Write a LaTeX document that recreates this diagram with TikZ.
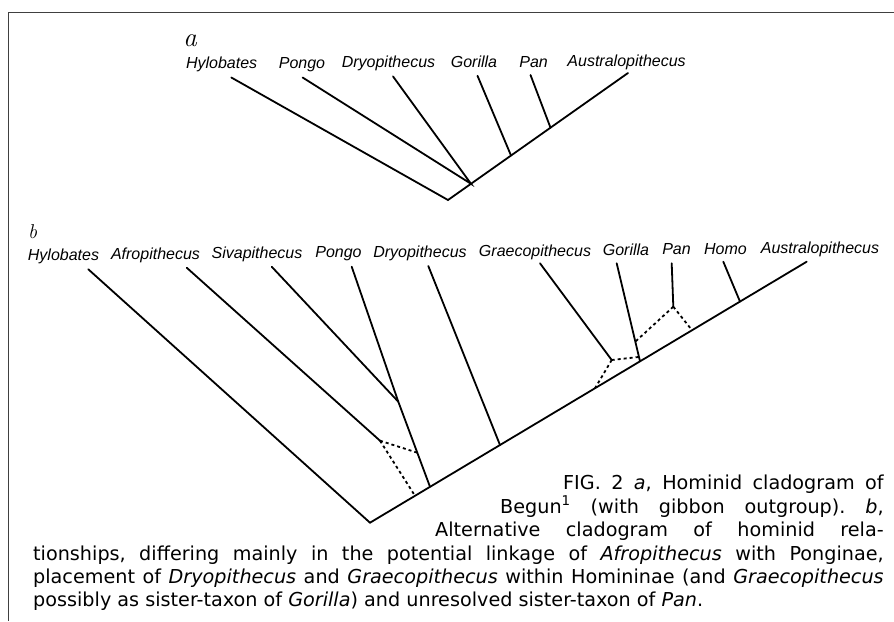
\documentclass[tikz,border=0pt]{standalone}
\usepackage{fontspec}
\newfontfamily\capfont{DejaVu Sans}
\newfontfamily\labfont{Liberation Sans}
\begin{document}
\begin{tikzpicture}[x=1pt,y=-1pt,
  br/.style={line width=1.8pt, line cap=round},
  dsh/.style={line width=1.8pt, dash pattern=on 3pt off 3pt},
  tx/.style={font=\labfont\itshape\fontsize{16}{19}\selectfont, inner sep=0pt, anchor=base},
  captext/.style={font=\capfont\fontsize{19.2}{23}\selectfont, inner sep=0pt, anchor=base west},
  panel/.style={font=\itshape\fontsize{27}{30}\selectfont, inner sep=0pt, anchor=base}]
\useasboundingbox (0,0) rectangle (894,621);
\draw[black!75, line width=1pt] (894,12) -- (8,12) -- (8,621);

% ---------- panel a ----------
\node[panel] (pa) at (190,46.5) {a};
\node[tx] (aHy) at (221.6,68.5) {Hylobates};
\node[tx] (aPo) at (302,68) {Pongo};
\node[tx] (aDr) at (388.5,67.5) {Dryopithecus};
\node[tx] (aGo) at (474,67) {Gorilla};
\node[tx] (aPa) at (533.6,67) {Pan};
\node[tx] (aAu) at (626.6,66.5) {Australopithecus};

\coordinate (aR) at (448,200);
\coordinate (aJ) at (471,183.8);
\coordinate (aGb) at (511,155.5);
\coordinate (aPb) at (550.5,127.7);
\coordinate (aAt) at (628,73);
\coordinate (aHt) at (231.3,77.5);
\coordinate (aPt) at (302.6,77.5);
\coordinate (aDt) at (393,76.4);
\coordinate (aGt) at (477.5,75.8);
\coordinate (aPat) at (530.5,75);

\draw[br] (aHt) -- (aR) -- (aAt);
\draw[br] (aPt) -- (aJ) -- (aDt);
\draw[br] (aGt) -- (aGb);
\draw[br] (aPat) -- (aPb);

% ---------- panel b ----------
\node[panel,font=\itshape\fontsize{20}{24}\selectfont] (pb) at (32.5,238) {b};
\node[tx] (bHy) at (63.5,260) {Hylobates};
\node[tx] (bAf) at (155.5,259) {Afropithecus};
\node[tx] (bSi) at (257,258) {Sivapithecus};
\node[tx] (bPo) at (338.5,257.5) {Pongo};
\node[tx] (bDr) at (420,257) {Dryopithecus};
\node[tx] (bGr) at (535,256) {Graecopithecus};
\node[tx] (bGo) at (626,255) {Gorilla};
\node[tx] (bPa) at (676.5,254.5) {Pan};
\node[tx] (bHo) at (725.5,254) {Homo};
\node[tx] (bAu) at (820,253.5) {Australopithecus};

\coordinate (bR) at (370,522.7);
\coordinate (bAt) at (806.7,261.7);
\coordinate (bHt) at (88.3,269.3);
\coordinate (bAft) at (186.7,267.7);
\coordinate (bA) at (380,440.7);
\coordinate (bSit) at (271.7,266.7);
\coordinate (bP) at (398.3,401.7);
\coordinate (bPot) at (351.7,266.7);
\coordinate (bPob) at (430,486.8);
\coordinate (bAx) at (418.2,453);
\coordinate (bAm) at (415,495.8);
\coordinate (bDt) at (428.3,266);
\coordinate (bDb) at (500,445);
\coordinate (bGrt) at (540,263.3);
\coordinate (bG) at (611.7,360);
\coordinate (bGot) at (616.7,263.3);
\coordinate (bGob) at (640,361.3);
\coordinate (bGx) at (638.5,357);
\coordinate (bGm) at (595,388.3);
\coordinate (bPat) at (671.7,263.3);
\coordinate (bQ) at (673.3,306.7);
\coordinate (bQx) at (635.3,341.7);
\coordinate (bQm) at (692,330.2);
\coordinate (bHot) at (723.3,261.7);
\coordinate (bHob) at (740,301.6);

\draw[br] (bHt) -- (bR) -- (bAt);
\draw[br] (bAft) -- (bA);
\draw[br] (bSit) -- (bP);
\draw[br] (bPot) -- (bP) -- (bPob);
\draw[br] (bDt) -- (bDb);
\draw[br] (bGrt) -- (bG);
\draw[br] (bGot) -- (bGob);
\draw[br] (bPat) -- (bQ);
\draw[br] (bHot) -- (bHob);
\draw[dsh] (bA) -- (bAx);
\draw[dsh] (bA) -- (bAm);
\draw[dsh] (bG) -- (bGx);
\draw[dsh] (bG) -- (bGm);
\draw[dsh] (bQ) -- (bQx);
\draw[dsh] (bQ) -- (bQm);

% ---------- caption ----------
\node[captext] (c1) at (563,489.5) {\frenchspacing\hbox to 320.5pt{FIG.\ 2 \textit{a}, Hominid cladogram of}};
\node[captext] (c2) at (500,513) {\frenchspacing\hbox to 383.5pt{Begun\textsuperscript{1} (with gibbon outgroup). \textit{b},}};
\node[captext] (c3) at (435,536.5) {\frenchspacing\hbox to 448.5pt{Alternative cladogram of hominid rela-}};
\node[captext] (c4) at (33,560) {\frenchspacing\hbox to 850.5pt{tionships, differing mainly in the potential linkage of \textit{Afropithecus} with Ponginae,}};
\node[captext] (c5) at (33,583) {\frenchspacing\hbox to 850.5pt{placement of \textit{Dryopithecus} and \textit{Graecopithecus} within Homininae (and \textit{Graecopithecus}}};
\node[captext] (c6) at (33,606) {\frenchspacing possibly as sister-taxon of \textit{Gorilla}) and unresolved sister-taxon of \textit{Pan}.};
\end{tikzpicture}
\end{document}
